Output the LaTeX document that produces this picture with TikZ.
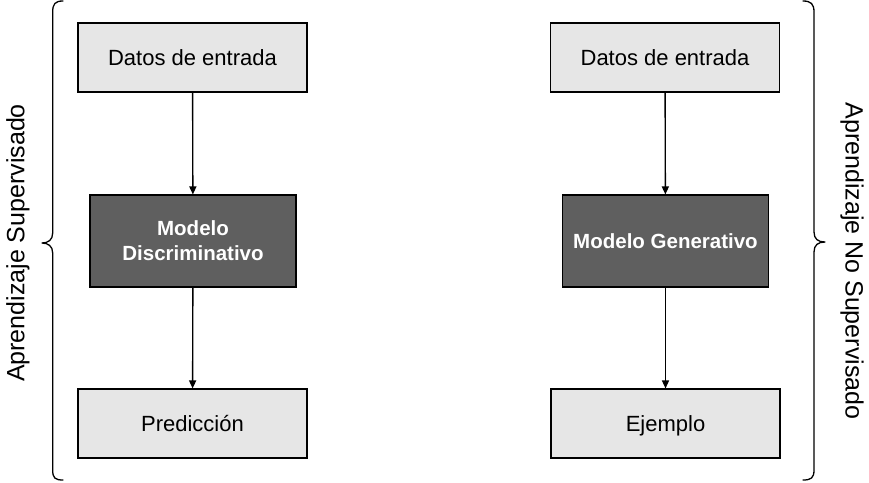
\documentclass[tikz,border=0pt]{standalone}
\usepackage{fontspec}
\setmainfont{Liberation Sans}
\usetikzlibrary{arrows.meta}
\definecolor{lightbox}{HTML}{E6E6E6}
\definecolor{darkbox}{HTML}{5F5F5F}
\begin{document}
\begin{tikzpicture}[x=1pt,y=-1pt,
  lightnode/.style={draw=black, line width=1.1pt, fill=lightbox, minimum width=229pt, minimum height=69pt, inner sep=0pt, text height=18pt, text depth=2.2pt, font=\fontsize{22}{26}\selectfont},
  darknode/.style={draw=black, line width=1.1pt, fill=darkbox, text=white, minimum width=206pt, minimum height=92pt, inner sep=0pt, align=center, font=\fontsize{20.5}{25}\selectfont\bfseries},
  conn/.style={line width=1.35pt, -{Triangle[length=8pt,width=7pt]}},
  bracepath/.style={line width=1.3pt, line cap=round, line join=round},
  sidelabel/.style={font=\fontsize{25}{30}\selectfont}
]
\useasboundingbox (0,0) rectangle (869,482);

% left column
\node[lightnode] (ld) at (192.5,57.5) {Datos de entrada};
\node[darknode] (lm) at (193,241) {Modelo\\Discriminativo};
\node[lightnode] (lp) at (192.5,423.5) {Predicción};
\draw[conn] (ld) -- (lm);
\draw[conn] (lm) -- (lp);

% right column
\node[lightnode] (rd) at (665,57.5) {Datos de entrada};
\node[darknode] (rm) at (665.5,241) {Modelo Generativo};
\node[lightnode] (re) at (665.5,423.5) {Ejemplo};
\draw[conn] (rd) -- (rm);
\draw[conn] (rm) -- (re);

% left brace
\draw[bracepath] (63,1) .. controls (55,1) and (52.7,4) .. (52.7,12)
  -- (52.7,233) .. controls (52.7,240) and (48,243) .. (42,243)
  .. controls (48,243) and (52.7,246) .. (52.7,253)
  -- (52.7,470) .. controls (52.7,478) and (55,480) .. (63,480);

% right brace
\draw[bracepath] (803,1) .. controls (811,1) and (814,4) .. (814,12)
  -- (814,232) .. controls (814,239) and (818,242) .. (825,242)
  .. controls (818,242) and (814,245) .. (814,252)
  -- (814,470) .. controls (814,478) and (811,480) .. (803,480);

% side labels
\node[sidelabel, rotate=90] (ll) at (18,243) {Aprendizaje Supervisado};
\node[sidelabel, rotate=-90] (rl) at (852,261) {Aprendizaje No Supervisado};
\end{tikzpicture}
\end{document}
